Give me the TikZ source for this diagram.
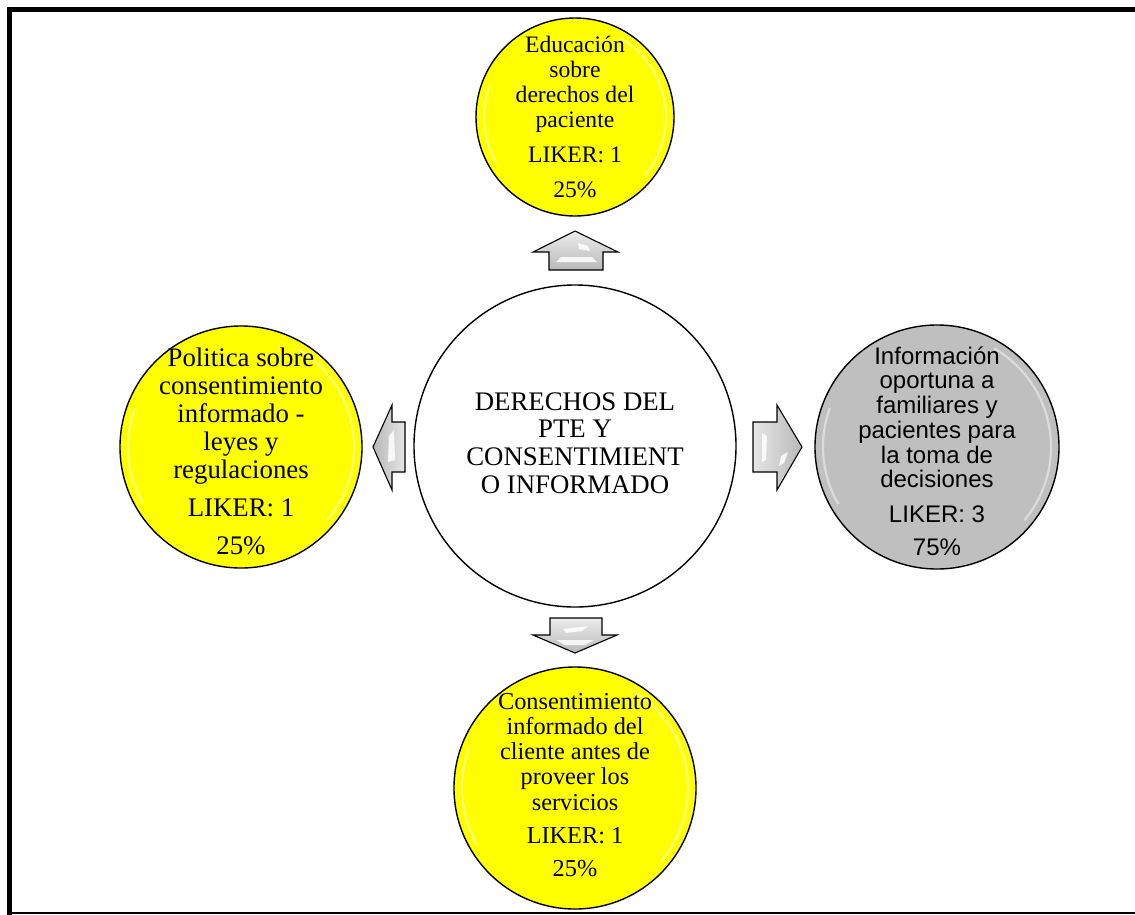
\documentclass[tikz,border=0pt]{standalone}
\usepackage{fontspec}
\setmainfont{Liberation Serif}
\newfontfamily\arialf{Liberation Sans}
\definecolor{bubyellow}{RGB}{255,255,0}
\definecolor{bubgray}{RGB}{191,191,191}
\tikzset{
  bubble/.style={circle, draw=black, line width=1.4pt, inner sep=0pt},
  gloss/.style={draw=white, line width=2.2pt, opacity=0.45},
  bubtext/.style={align=center, font=\fontsize{23.6}{25}\selectfont, inner sep=0pt},
  midtext/.style={align=center, font=\fontsize{26.8}{27.7}\selectfont, inner sep=0pt},
  blockarrow/.style={draw=black, line width=1.1pt, line join=miter},
  shine/.style={fill=white, opacity=0.85},
}
\begin{document}
\begin{tikzpicture}[x=1pt,y=-1pt]
\useasboundingbox (0,0) rectangle (1135,914);
% frame
\draw[line width=5pt] (1140,9.5) -- (9.5,9.5) -- (9.5,918);
\draw[line width=1.5pt] (9.5,912.8) -- (1140,912.8);

% circles
\node[bubble, fill=white, minimum size=322pt] (mid) at (575,446) {};
\node[bubble, fill=bubyellow, minimum size=198pt] (top) at (575,117) {};
\node[bubble, fill=bubyellow, minimum size=242pt] (left) at (241,447) {};
\node[bubble, fill=bubgray, minimum size=244pt] (right) at (937,447) {};
\node[bubble, fill=bubyellow, minimum size=242pt] (bottom) at (575,788) {};

% gloss rings
\draw[gloss] (top.center) ++(-60:91) arc[start angle=-60, end angle=40, radius=91];
\draw[gloss] (top.center) ++(150:91) arc[start angle=150, end angle=200, radius=91];
\draw[gloss] (left.center) ++(-60:113) arc[start angle=-60, end angle=40, radius=113];
\draw[gloss] (left.center) ++(150:113) arc[start angle=150, end angle=200, radius=113];
\draw[gloss] (right.center) ++(-60:114) arc[start angle=-60, end angle=40, radius=114];
\draw[gloss] (right.center) ++(150:114) arc[start angle=150, end angle=200, radius=114];
\draw[gloss] (bottom.center) ++(-60:113) arc[start angle=-60, end angle=40, radius=113];
\draw[gloss] (bottom.center) ++(150:113) arc[start angle=150, end angle=200, radius=113];

% texts
\node[midtext] (midtxt) at (575,443) {DERECHOS DEL\\PTE Y\\CONSENTIMIENT\\O INFORMADO};
\node[bubtext] (toptxt) at (575,117) {Educación\\sobre\\derechos del\\paciente\\[10pt]LIKER: 1\\[10pt]25\%};
\node[bubtext, font=\fontsize{26.8}{28}\selectfont] (lefttxt) at (241,451) {Politica sobre\\consentimiento\\informado -\\leyes y\\regulaciones\\[10pt]LIKER: 1\\[10pt]25\%};
\node[bubtext, font=\arialf\fontsize{24}{24.7}\selectfont] (righttxt) at (937,451) {Información\\oportuna a\\familiares y\\pacientes para\\la toma de\\decisiones\\[10pt]LIKER: 3\\[8pt]75\%};
\node[bubtext, font=\fontsize{24.3}{25.3}\selectfont] (bottomtxt) at (575,785) {Consentimiento\\informado del\\cliente antes de\\proveer los\\servicios\\[8pt]LIKER: 1\\[8pt]25\%};

% block arrows
\coordinate (upA) at (575,231);
\draw[blockarrow, top color=gray!15, bottom color=gray!55]
  (upA) -- (618,252) -- (603,252) -- (603,270) -- (549,270) -- (549,252) -- (533,252) -- cycle;
\fill[shine] (578,243) -- (588,246) -- (590,251) -- (579,249) -- cycle;
\fill[shine] (556,262) -- (597,262) -- (592,257) -- (561,257) -- cycle;

\coordinate (downA) at (575,653);
\draw[blockarrow, top color=gray!15, bottom color=gray!55]
  (550,618) -- (602,618) -- (602,635) -- (617,635) -- (downA) -- (533,635) -- (550,635) -- cycle;
\fill[shine] (563,629) -- (588,626) -- (582,631) -- (566,633) -- cycle;
\fill[shine] (556,640) -- (594,640) -- (585,645) -- (565,645) -- cycle;

\coordinate (leftA) at (373,447);
\draw[blockarrow, left color=gray!55, right color=gray!20]
  (leftA) -- (392,405) -- (392,422) -- (405,422) -- (405,472) -- (392,472) -- (392,490) -- cycle;
\fill[shine] (389,436) -- (394,430) -- (395,460) -- (388,462) -- cycle;

\coordinate (rightA) at (802,447);
\draw[blockarrow, left color=gray!20, right color=gray!55]
  (753,422) -- (777,422) -- (777,405) -- (rightA) -- (777,490) -- (777,472) -- (753,472) -- cycle;
\fill[shine] (762,433) -- (767,436) -- (766,460) -- (762,462) -- cycle;
\fill[shine] (781,456) -- (788,452) -- (784,463) -- (779,466) -- cycle;
\end{tikzpicture}
\end{document}
